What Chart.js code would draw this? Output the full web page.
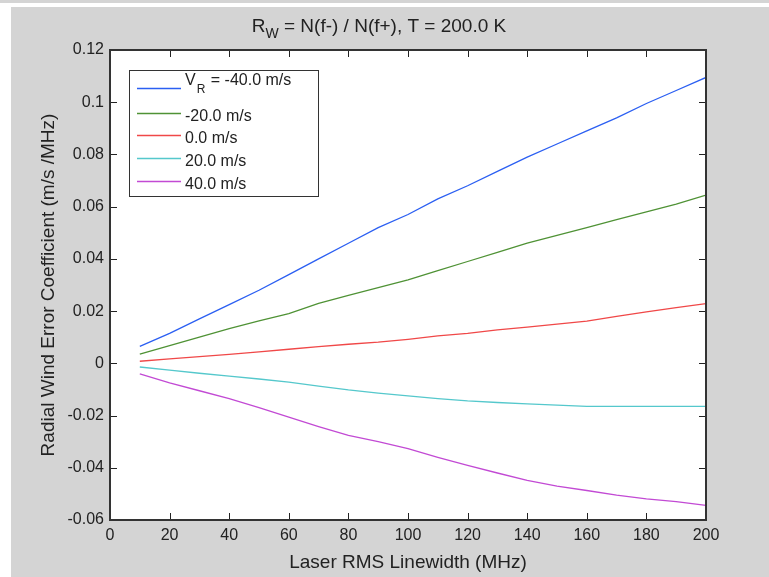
<!DOCTYPE html>
<html>
<head>
<meta charset="utf-8">
<script src="https://cdn.jsdelivr.net/npm/chart.js@4.4.0/dist/chart.umd.min.js"></script>
<style>
    html, body { margin: 0; padding: 0; background: #fff; }
    #wrap { position: relative; width: 769px; height: 577px; overflow: hidden; }
    #strip { position: absolute; left: 0; top: 0; width: 769px; height: 3px; background: #d4d4d4; }
    #panel { position: absolute; left: 11px; top: 7px; right: 0; bottom: 0; background: #d4d4d4; }
    canvas { position: absolute; left: 0; top: 0; }
</style>
</head>
<body>
<div id="wrap">
    <div id="strip"></div>
    <div id="panel"></div>
    <canvas id="chart" width="769" height="577"></canvas>
</div>
<script>
// Laser RMS linewidth (MHz)
const linewidths = [10, 20, 30, 40, 50, 60, 70, 80, 90, 100, 110, 120, 130, 140, 150, 160, 170, 180, 190, 200];

// radial wind error coefficient (m/s /MHz) for each radial velocity
const vrMinus40 = [0.0065, 0.0115, 0.0170, 0.0225, 0.0280, 0.0340, 0.0400, 0.0460, 0.0520, 0.0570, 0.0630, 0.0680, 0.0735, 0.0790, 0.0840, 0.0890, 0.0940, 0.0995, 0.1045, 0.1095];
const vrMinus20 = [0.0035, 0.0068, 0.0100, 0.0133, 0.0163, 0.0190, 0.0230, 0.0260, 0.0290, 0.0320, 0.0355, 0.0390, 0.0425, 0.0460, 0.0490, 0.0520, 0.0550, 0.0580, 0.0610, 0.0644];
const vrZero    = [0.0008, 0.0017, 0.0026, 0.0034, 0.0044, 0.0054, 0.0064, 0.0073, 0.0081, 0.0092, 0.0105, 0.0115, 0.0128, 0.0139, 0.0150, 0.0162, 0.0180, 0.0197, 0.0213, 0.0229];
const vrPlus20  = [-0.0014, -0.0026, -0.0038, -0.0049, -0.0060, -0.0072, -0.0087, -0.0102, -0.0114, -0.0125, -0.0135, -0.0144, -0.0150, -0.0155, -0.0160, -0.0165, -0.0165, -0.0165, -0.0165, -0.0165];
const vrPlus40  = [-0.0040, -0.0075, -0.0105, -0.0135, -0.0170, -0.0206, -0.0242, -0.0276, -0.0300, -0.0327, -0.0360, -0.0391, -0.0420, -0.0448, -0.0470, -0.0487, -0.0505, -0.0519, -0.0530, -0.0544];

const seriesLabels = ['-40.0 m/s', '-20.0 m/s', '0.0 m/s', '20.0 m/s', '40.0 m/s'];
const seriesColors = ['#2b5ff2', '#4f9235', '#f04848', '#55c8cc', '#c24ad4'];

const xTicks = [0, 20, 40, 60, 80, 100, 120, 140, 160, 180, 200];
const yTicks = [-0.06, -0.04, -0.02, 0, 0.02, 0.04, 0.06, 0.08, 0.1, 0.12];

const FONT = '"Liberation Sans", Arial, sans-serif';
const INK = '#222';

function toPoints(values) {
    return values.map((v, i) => ({ x: linewidths[i], y: v }));
}

const allSeries = [vrMinus40, vrMinus20, vrZero, vrPlus20, vrPlus40];

// white axes background
const axesBackground = {
    id: 'axesBackground',
    beforeDraw(chart) {
        const { ctx, chartArea: a } = chart;
        ctx.save();
        ctx.fillStyle = '#fff';
        ctx.fillRect(a.left, a.top, a.right - a.left, a.bottom - a.top);
        ctx.restore();
    }
};

// box, inward ticks, title with subscript, legend inside axes
const matlabDecor = {
    id: 'matlabDecor',
    afterDraw(chart) {
        const { ctx, chartArea: a, scales } = chart;
        const tl = 7;
        ctx.save();
        ctx.strokeStyle = INK;
        ctx.lineWidth = 1;
        ctx.beginPath();
        xTicks.forEach(v => {
            const px = Math.round(scales.x.getPixelForValue(v)) + 0.5;
            ctx.moveTo(px, a.bottom); ctx.lineTo(px, a.bottom - tl);
            ctx.moveTo(px, a.top); ctx.lineTo(px, a.top + tl);
        });
        yTicks.forEach(v => {
            const py = Math.round(scales.y.getPixelForValue(v)) + 0.5;
            ctx.moveTo(a.left, py); ctx.lineTo(a.left + tl, py);
            ctx.moveTo(a.right, py); ctx.lineTo(a.right - tl, py);
        });
        ctx.stroke();

        ctx.lineWidth = 2;
        ctx.strokeStyle = '#333';
        ctx.strokeRect(a.left, a.top, a.right - a.left, a.bottom - a.top);

        // title
        ctx.fillStyle = INK;
        ctx.textBaseline = 'alphabetic';
        const big = '19px ' + FONT, small = '14px ' + FONT;
        const rest = ' = N(f-) / N(f+), T = 200.0 K';
        ctx.font = big;
        const wR = ctx.measureText('R').width, wRest = ctx.measureText(rest).width;
        ctx.font = small;
        const wW = ctx.measureText('W').width;
        let tx = 379 - (wR + wW + wRest) / 2;
        const ty = 32;
        ctx.font = big; ctx.fillText('R', tx, ty); tx += wR;
        ctx.font = small; ctx.fillText('W', tx, ty + 6); tx += wW;
        ctx.font = big; ctx.fillText(rest, tx, ty);

        // legend
        const lx = 129, ly = 70, lw = 189, lh = 126;
        ctx.fillStyle = '#fff';
        ctx.fillRect(lx, ly, lw, lh);
        ctx.lineWidth = 1;
        ctx.strokeStyle = '#333';
        ctx.strokeRect(lx + 0.5, ly + 0.5, lw, lh);
        const rowY = [88, 113, 135, 158, 181];
        const lf = '16px ' + FONT, lsub = '12px ' + FONT;
        seriesLabels.forEach((label, i) => {
            const y = rowY[i];
            ctx.strokeStyle = seriesColors[i];
            ctx.lineWidth = 1.3;
            ctx.beginPath();
            ctx.moveTo(137, y + 0.5); ctx.lineTo(181, y + 0.5);
            ctx.stroke();
            ctx.fillStyle = INK;
            let x = 185;
            if (i === 0) {
                ctx.font = lf; ctx.fillText('V', x, 85); x += ctx.measureText('V').width + 1;
                ctx.font = lsub; ctx.fillText('R', x, 93); x += ctx.measureText('R').width + 1;
                ctx.font = lf; ctx.fillText(' = ' + label, x, 85);
            } else {
                ctx.font = lf;
                ctx.fillText(label, x, y + 8);
            }
        });
        ctx.restore();
    }
};

new Chart(document.getElementById('chart'), {
    type: 'line',
    data: {
        datasets: allSeries.map((vals, i) => ({
            label: seriesLabels[i],
            data: toPoints(vals),
            borderColor: seriesColors[i],
            borderWidth: 1.3,
            pointRadius: 0,
            tension: 0,
            fill: false
        }))
    },
    options: {
        responsive: false,
        animation: false,
        layout: { padding: { left: 0, top: 50, right: 63, bottom: 0 } },
        plugins: {
            legend: { display: false },
            tooltip: { enabled: false }
        },
        scales: {
            x: {
                type: 'linear',
                min: 0,
                max: 200,
                grid: { display: false, drawTicks: false },
                border: { display: false },
                afterBuildTicks: scale => { scale.ticks = xTicks.map(v => ({ value: v })); },
                afterFit: scale => { scale.height = 57; },
                ticks: {
                    color: INK,
                    padding: 6,
                    maxRotation: 0,
                    font: { family: FONT, size: 16 },
                    callback: v => String(v)
                },
                title: {
                    display: true,
                    text: 'Laser RMS Linewidth (MHz)',
                    color: INK,
                    font: { family: FONT, size: 19 },
                    padding: { top: 0, bottom: 3 }
                }
            },
            y: {
                type: 'linear',
                min: -0.06,
                max: 0.12,
                grid: { display: false, drawTicks: false },
                border: { display: false },
                afterBuildTicks: scale => { scale.ticks = yTicks.map(v => ({ value: v })); },
                afterFit: scale => { scale.width = 110; },
                ticks: {
                    color: INK,
                    padding: 6,
                    font: { family: FONT, size: 16 },
                    callback: v => String(Number(v.toFixed(2)))
                },
                title: {
                    display: true,
                    text: 'Radial Wind Error Coefficient (m/s /MHz)',
                    color: INK,
                    font: { family: FONT, size: 19 },
                    padding: { top: 37, bottom: 0 }
                }
            }
        }
    },
    plugins: [axesBackground, matlabDecor]
});
</script>
</body>
</html>
